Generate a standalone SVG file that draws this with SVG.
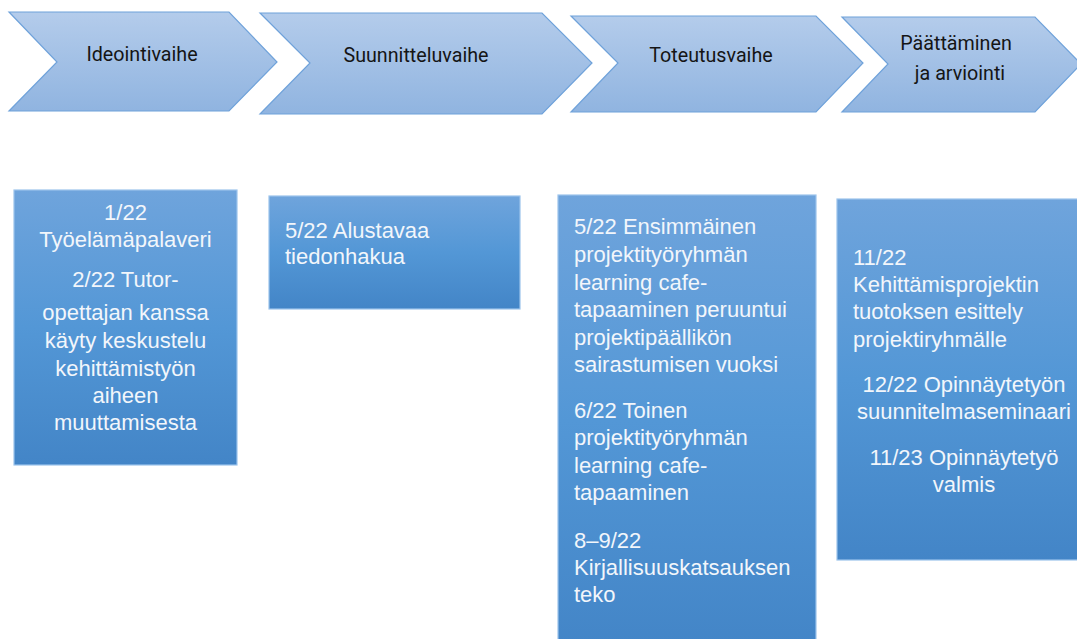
<svg xmlns="http://www.w3.org/2000/svg" width="1077" height="639" viewBox="0 0 1077 639">
<defs>
<linearGradient id="gChev" x1="0" y1="0" x2="0" y2="1">
<stop offset="0" stop-color="#b4cceb"/>
<stop offset="1" stop-color="#90b4e0"/>
</linearGradient>
<linearGradient id="gBox" x1="0" y1="0" x2="0" y2="1">
<stop offset="0" stop-color="#6fa4dc"/>
<stop offset="0.5" stop-color="#5397d6"/>
<stop offset="1" stop-color="#4385c7"/>
</linearGradient>
<style>
.chev{fill:url(#gChev);stroke:#6fa2da;stroke-width:1.2}
.box{fill:url(#gBox);stroke:#9cc4ec;stroke-width:1.2}
.ct{font-family:Roboto,"Liberation Sans",sans-serif;font-size:19.7px;fill:#151515;text-anchor:middle}
.bt{font-family:"Liberation Sans",Arial,sans-serif;font-size:22px;fill:#f2f6fb}
.c{text-anchor:middle}
</style>
</defs>
<rect width="1077" height="639" fill="#ffffff"/>
<g id="connectors"></g>
<g id="phase1">
<polygon class="chev" points="9,12 229,12 277,62 229,111 9,111 57,62"/>
<text class="ct" x="142" y="61">Ideointivaihe</text>
</g>
<g id="phase2">
<polygon class="chev" points="260,13 542,13 592,63 542,114 260,114 310,63"/>
<text class="ct" x="416" y="62">Suunnitteluvaihe</text>
</g>
<g id="phase3">
<polygon class="chev" points="571,16 816,16 863,63 816,112 571,112 618,63"/>
<text class="ct" x="711" y="62">Toteutusvaihe</text>
</g>
<g id="phase4">
<polygon class="chev" points="842,17 1035,17 1081,64 1035,112 842,112 888,64"/>
<text class="ct" x="956" y="50">Päättäminen</text>
<text class="ct" x="960" y="80">ja arviointi</text>
</g>
<g id="box1">
<rect class="box" x="14" y="190" width="223" height="275"/>
<text class="bt c" x="125.5" y="220">1/22</text>
<text class="bt c" x="125.5" y="247">Työelämäpalaveri</text>
<text class="bt c" x="125.5" y="287">2/22 Tutor-</text>
<text class="bt c" x="125.5" y="320">opettajan kanssa</text>
<text class="bt c" x="125.5" y="348">käyty keskustelu</text>
<text class="bt c" x="125.5" y="376">kehittämistyön</text>
<text class="bt c" x="125.5" y="403">aiheen</text>
<text class="bt c" x="125.5" y="430">muuttamisesta</text>
</g>
<g id="box2">
<rect class="box" x="269" y="196" width="251" height="113"/>
<text class="bt" x="285" y="238">5/22 Alustavaa</text>
<text class="bt" x="285" y="264">tiedonhakua</text>
</g>
<g id="box3">
<rect class="box" x="558" y="195" width="258" height="452"/>
<text class="bt" x="574" y="234">5/22 Ensimmäinen</text>
<text class="bt" x="574" y="262">projektityöryhmän</text>
<text class="bt" x="574" y="290">learning cafe-</text>
<text class="bt" x="574" y="317">tapaaminen peruuntui</text>
<text class="bt" x="574" y="345">projektipäällikön</text>
<text class="bt" x="574" y="372">sairastumisen vuoksi</text>
<text class="bt" x="574" y="418">6/22 Toinen</text>
<text class="bt" x="574" y="445">projektityöryhmän</text>
<text class="bt" x="574" y="473">learning cafe-</text>
<text class="bt" x="574" y="500">tapaaminen</text>
<text class="bt" x="574" y="548">8–9/22</text>
<text class="bt" x="574" y="575">Kirjallisuuskatsauksen</text>
<text class="bt" x="574" y="602">teko</text>
</g>
<g id="box4">
<rect class="box" x="837" y="199" width="252" height="361"/>
<text class="bt" x="853" y="265">11/22</text>
<text class="bt" x="853" y="292">Kehittämisprojektin</text>
<text class="bt" x="853" y="319">tuotoksen esittely</text>
<text class="bt" x="853" y="347">projektiryhmälle</text>
<text class="bt c" x="964" y="392">12/22 Opinnäytetyön</text>
<text class="bt c" x="964" y="419">suunnitelmaseminaari</text>
<text class="bt c" x="964" y="465">11/23 Opinnäytetyö</text>
<text class="bt c" x="964" y="492">valmis</text>
</g>
</svg>
